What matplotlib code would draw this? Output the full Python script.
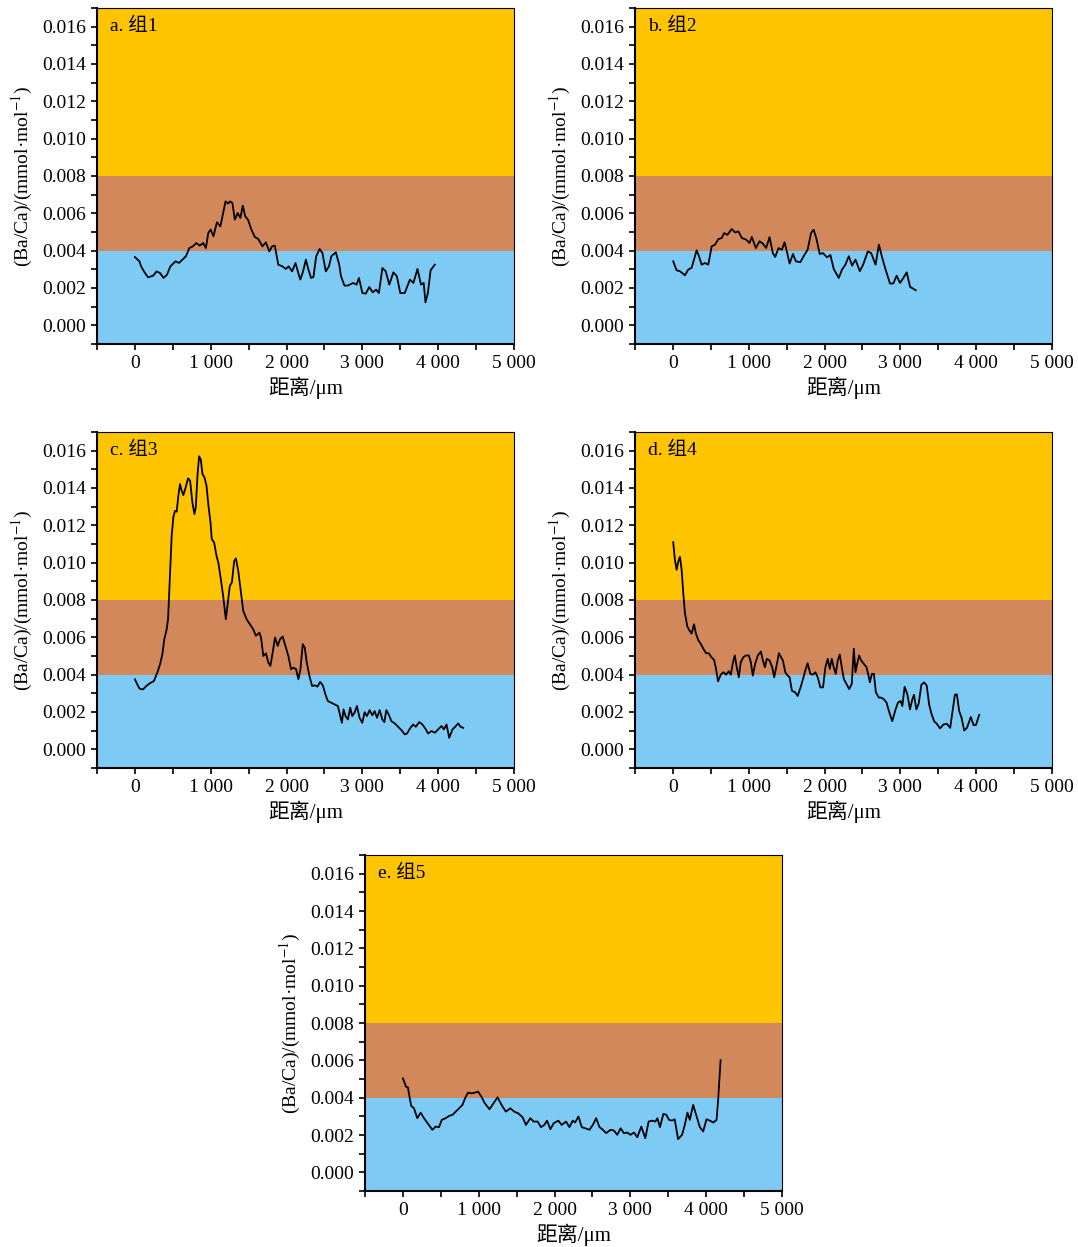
import numpy as np
import matplotlib
matplotlib.use("Agg")
from matplotlib import pyplot as plt
from matplotlib.ticker import MultipleLocator

plt.rcParams['font.family'] = ['Liberation Serif', 'Noto Sans CJK SC']
plt.rcParams['mathtext.fontset'] = 'stix'

# valores de Ba/Ca em unidades de 0.001 mmol/mol
a_x = [0, 59, 82, 127, 173, 241, 286, 332, 377, 423, 468, 536, 582, 627, 673, 718, 764, 809, 855, 900,
       936, 968, 1000, 1036, 1082, 1127, 1164, 1195, 1227, 1255, 1286, 1318, 1355, 1391, 1423, 1455, 1491,
       1536, 1582, 1627, 1682, 1727, 1773, 1809, 1845, 1891, 1945, 1991, 2027, 2073, 2118, 2155, 2182,
       2218, 2255, 2286, 2323, 2355, 2391, 2436, 2473, 2518, 2559, 2591, 2650, 2695, 2718, 2764, 2809,
       2877, 2923, 2955, 3000, 3045, 3091, 3136, 3182, 3218, 3264, 3309, 3355, 3409, 3455, 3500, 3559,
       3627, 3673, 3727, 3773, 3809, 3832, 3864, 3900, 3955]
a_y = [3.66, 3.43, 3.16, 2.84, 2.57, 2.66, 2.89, 2.80, 2.54, 2.71, 3.16, 3.43, 3.34, 3.52, 3.70, 4.14, 4.23,
       4.41, 4.27, 4.41, 4.14, 4.95, 5.13, 4.77, 5.52, 5.30, 6.02, 6.64, 6.52, 6.64, 6.55, 5.66, 6.02, 5.75,
       6.41, 5.84, 5.66, 5.13, 4.73, 4.63, 4.23, 4.45, 3.96, 4.23, 4.27, 3.25, 3.16, 3.02, 3.16, 2.89, 3.34,
       2.80, 2.45, 2.89, 3.52, 3.02, 2.54, 2.59, 3.70, 4.09, 3.88, 2.89, 3.16, 3.70, 3.91, 3.25, 2.63, 2.13,
       2.13, 2.27, 2.18, 2.54, 1.73, 1.70, 2.05, 1.77, 1.91, 1.73, 3.07, 2.89, 2.18, 2.84, 2.63, 1.73, 1.73,
       2.45, 2.27, 3.02, 2.18, 2.27, 1.23, 1.73, 2.95, 3.25]

b_x = [4, 48, 92, 159, 203, 247, 278, 313, 344, 379, 423, 467, 511, 555, 600, 644, 675, 719, 776, 820, 864,
       909, 966, 1010, 1041, 1094, 1142, 1186, 1230, 1274, 1318, 1349, 1393, 1437, 1472, 1503, 1539, 1583,
       1622, 1680, 1724, 1777, 1821, 1856, 1891, 1936, 1980, 2033, 2077, 2121, 2187, 2231, 2275, 2320, 2364,
       2408, 2465, 2509, 2571, 2615, 2673, 2717, 2761, 2805, 2863, 2907, 2951, 2995, 3040, 3084, 3128, 3203]
b_y = [3.43, 2.95, 2.90, 2.68, 2.99, 3.08, 3.52, 4.02, 3.70, 3.25, 3.34, 3.25, 4.23, 4.32, 4.62, 4.68, 4.94,
       4.85, 5.16, 4.98, 5.03, 4.68, 4.59, 4.41, 4.73, 4.14, 4.50, 4.38, 4.14, 4.73, 3.87, 3.66, 4.14, 4.05,
       4.45, 3.96, 3.31, 3.82, 3.43, 3.38, 3.70, 4.05, 4.94, 5.12, 4.68, 3.82, 3.87, 3.64, 3.77, 3.02, 2.54,
       2.99, 3.25, 3.70, 3.20, 3.52, 2.90, 3.25, 3.96, 3.87, 3.25, 4.32, 3.61, 2.99, 2.24, 2.24, 2.66, 2.27,
       2.54, 2.84, 2.06, 1.88]

c_x = [0, 31, 62, 106, 150, 194, 251, 295, 331, 362, 388, 419, 437, 450, 468, 485, 507, 529, 551, 573, 595,
       617, 639, 670, 701, 728, 758, 785, 803, 825, 847, 869, 891, 917, 944, 970, 997, 1014, 1045, 1076, 1102,
       1133, 1164, 1199, 1226, 1252, 1279, 1310, 1332, 1363, 1398, 1429, 1473, 1517, 1561, 1596, 1641, 1663,
       1694, 1729, 1760, 1787, 1817, 1848, 1883, 1914, 1949, 1985, 2024, 2059, 2090, 2126, 2156, 2183, 2214,
       2240, 2267, 2302, 2337, 2372, 2408, 2443, 2478, 2513, 2544, 2589, 2633, 2677, 2708, 2730, 2752, 2778,
       2809, 2840, 2867, 2897, 2928, 2963, 2999, 3030, 3060, 3096, 3131, 3162, 3193, 3228, 3263, 3290, 3316,
       3347, 3383, 3427, 3471, 3515, 3559, 3590, 3625, 3669, 3705, 3749, 3793, 3837, 3867, 3912, 3956, 4000,
       4044, 4075, 4110, 4145, 4189, 4234, 4264, 4295, 4330]
c_y = [3.75, 3.48, 3.25, 3.21, 3.39, 3.53, 3.66, 4.11, 4.55, 5.09, 5.90, 6.43, 6.97, 8.22, 9.83, 11.44, 12.43,
       12.78, 12.73, 13.59, 14.21, 13.86, 13.62, 14.04, 14.52, 14.39, 13.23, 12.60, 12.96, 14.66, 15.70, 15.52,
       14.75, 14.57, 14.13, 13.05, 12.16, 11.26, 11.08, 10.37, 9.97, 9.12, 8.22, 6.97, 7.86, 8.76, 8.94, 10.10,
       10.23, 9.56, 8.40, 7.42, 6.97, 6.70, 6.43, 6.08, 6.25, 5.99, 5.00, 5.14, 4.64, 4.47, 5.18, 5.99, 5.54,
       5.90, 6.04, 5.54, 5.00, 4.29, 4.38, 4.29, 3.75, 4.29, 5.63, 5.45, 4.64, 3.93, 3.39, 3.43, 3.36, 3.61,
       3.43, 2.94, 2.59, 2.50, 2.41, 2.32, 1.78, 1.42, 2.14, 1.78, 1.60, 2.23, 1.78, 1.96, 2.32, 1.69, 1.42,
       1.99, 1.78, 2.10, 1.82, 2.05, 1.69, 2.10, 1.60, 1.46, 2.10, 1.87, 1.51, 1.39, 1.21, 1.03, 0.80, 0.85,
       1.10, 1.33, 1.21, 1.46, 1.33, 1.07, 0.85, 0.98, 0.89, 1.07, 1.25, 1.07, 1.33, 0.62, 1.07, 1.25, 1.39,
       1.21, 1.15]

d_x = [4, 26, 49, 71, 93, 115, 137, 159, 190, 216, 247, 278, 304, 335, 366, 401, 437, 472, 507, 543, 569, 595,
       631, 666, 701, 737, 763, 790, 816, 842, 869, 895, 930, 966, 1001, 1028, 1054, 1085, 1120, 1160, 1187,
       1213, 1239, 1275, 1310, 1336, 1372, 1398, 1425, 1451, 1482, 1513, 1539, 1570, 1614, 1645, 1681, 1716,
       1746, 1777, 1813, 1848, 1879, 1910, 1945, 1980, 2011, 2042, 2069, 2095, 2121, 2148, 2174, 2201, 2227,
       2254, 2289, 2324, 2359, 2386, 2408, 2430, 2456, 2483, 2518, 2553, 2580, 2598, 2624, 2651, 2677, 2717,
       2748, 2783, 2818, 2849, 2893, 2937, 2968, 3003, 3026, 3056, 3092, 3127, 3158, 3180, 3211, 3242, 3277,
       3313, 3348, 3379, 3410, 3445, 3480, 3524, 3568, 3613, 3657, 3688, 3719, 3745, 3776, 3807, 3842, 3878,
       3909, 3929, 3965, 3996, 4040]
d_y = [11.10, 10.16, 9.62, 10.07, 10.31, 9.62, 8.36, 7.28, 6.59, 6.38, 6.20, 6.70, 6.20, 5.84, 5.66, 5.39, 5.15,
       5.15, 4.94, 4.79, 4.31, 3.64, 4.00, 4.13, 4.00, 4.18, 4.00, 4.61, 5.03, 4.40, 3.86, 4.67, 4.94, 5.03,
       5.03, 4.67, 3.95, 4.58, 5.03, 5.24, 4.76, 4.40, 4.85, 4.76, 4.40, 3.86, 4.58, 5.15, 4.94, 4.76, 4.13,
       3.95, 3.86, 3.14, 3.05, 2.86, 3.28, 3.77, 4.22, 4.61, 4.04, 4.00, 4.13, 3.86, 3.32, 3.32, 4.40, 4.85,
       4.31, 4.85, 4.40, 4.04, 4.76, 5.08, 4.40, 3.77, 3.50, 3.23, 3.50, 5.39, 4.13, 4.58, 5.03, 4.76, 4.58,
       4.40, 3.95, 3.59, 4.04, 4.04, 3.05, 2.77, 2.77, 2.68, 2.50, 2.05, 1.51, 2.14, 2.50, 2.59, 2.32, 3.35,
       2.95, 2.14, 2.68, 2.92, 2.14, 2.45, 3.46, 3.59, 3.41, 2.41, 1.91, 1.51, 1.37, 1.12, 1.33, 1.37, 1.15,
       2.05, 2.92, 2.95, 2.05, 1.69, 1.01, 1.15, 1.51, 1.73, 1.30, 1.30, 1.84]

e_x = [0, 22, 40, 66, 93, 110, 146, 190, 234, 278, 331, 388, 432, 476, 512, 564, 608, 653, 697, 741, 785, 829,
       860, 904, 948, 992, 1036, 1080, 1142, 1195, 1248, 1301, 1358, 1416, 1469, 1521, 1579, 1623, 1680, 1724,
       1777, 1821, 1865, 1901, 1945, 1989, 2050, 2094, 2152, 2196, 2240, 2271, 2315, 2359, 2403, 2461, 2505,
       2549, 2593, 2637, 2681, 2739, 2783, 2827, 2871, 2915, 2959, 3003, 3047, 3091, 3144, 3197, 3241, 3286,
       3330, 3356, 3391, 3435, 3475, 3510, 3550, 3585, 3629, 3682, 3718, 3753, 3784, 3828, 3872, 3916, 3960,
       4004, 4049, 4093, 4137, 4159, 4190]
e_y = [5.03, 4.80, 4.59, 4.55, 3.91, 3.56, 3.43, 2.90, 3.20, 2.90, 2.60, 2.28, 2.45, 2.42, 2.81, 2.90, 3.02,
       3.08, 3.25, 3.43, 3.61, 4.05, 4.27, 4.23, 4.27, 4.32, 4.05, 3.70, 3.38, 3.70, 4.02, 3.61, 3.25, 3.43,
       3.25, 3.16, 2.95, 2.54, 2.90, 2.72, 2.72, 2.42, 2.54, 2.77, 2.31, 2.63, 2.77, 2.54, 2.72, 2.42, 2.77,
       2.67, 2.99, 2.42, 2.36, 2.28, 2.54, 2.90, 2.42, 2.28, 2.10, 2.28, 2.24, 2.01, 2.36, 2.10, 2.13, 2.01,
       2.13, 1.88, 2.45, 1.83, 2.72, 2.77, 2.72, 2.90, 2.42, 3.13, 3.08, 2.81, 2.77, 2.84, 1.78, 2.01, 2.54,
       3.20, 2.81, 3.61, 3.02, 2.42, 2.19, 2.84, 2.77, 2.67, 2.81, 3.96, 6.01]

titulos = ['a. 组1', 'b. 组2', 'c. 组3', 'd. 组4', 'e. 组5']
xticks = [0, 1000, 2000, 3000, 4000, 5000]
xtick_labels = ['0', '1 000', '2 000', '3 000', '4 000', '5 000']
yticks = [0.000, 0.002, 0.004, 0.006, 0.008, 0.010, 0.012, 0.014, 0.016]
faixas = [(-0.001, 0.004, '#7DCBF5'), (0.004, 0.008, '#D2885A'), (0.008, 0.017, '#FFC400')]

W, H = 1078, 1247
posicoes = [(97, 8), (635, 8), (97, 432), (635, 432), (365, 855)]
dados = [(a_x, a_y), (b_x, b_y), (c_x, c_y), (d_x, d_y), (e_x, e_y)]

fig = plt.figure(figsize=(W / 100, H / 100), dpi=100)

for (px, py), (xs, ys), titulo in zip(posicoes, dados, titulos):
    ax = fig.add_axes([px / W, 1 - (py + 336) / H, 417 / W, 336 / H])
    for y0, y1, cor in faixas:
        ax.axhspan(y0, y1, color=cor, lw=0, zorder=0)
    ax.plot(xs, np.array(ys) * 1e-3, color='black', lw=1.3, zorder=2)
    ax.set_xlim(-500, 5000)
    ax.set_ylim(-0.001, 0.017)
    ax.set_xticks(xticks)
    ax.set_xticklabels(xtick_labels)
    ax.set_yticks(yticks)
    ax.set_yticklabels(['%.3f' % v for v in yticks])
    ax.xaxis.set_minor_locator(MultipleLocator(500))
    ax.yaxis.set_minor_locator(MultipleLocator(0.001))
    ax.tick_params(which='both', direction='out', length=4, width=1.2, labelsize=14, pad=4)
    for lado in ['left', 'bottom']:
        ax.spines[lado].set_linewidth(1.5)
    for lado in ['top', 'right']:
        ax.spines[lado].set_linewidth(0.8)
    ax.set_xlabel('距离/μm', fontsize=15, labelpad=3)
    ax.set_ylabel(r'(Ba/Ca)/(mmol·mol$^{-1}$)', fontsize=14, labelpad=5)
    ax.text(0.031, 0.945, titulo, transform=ax.transAxes, fontsize=14, va='center', ha='left')

fig.savefig('out.png', dpi=100)
